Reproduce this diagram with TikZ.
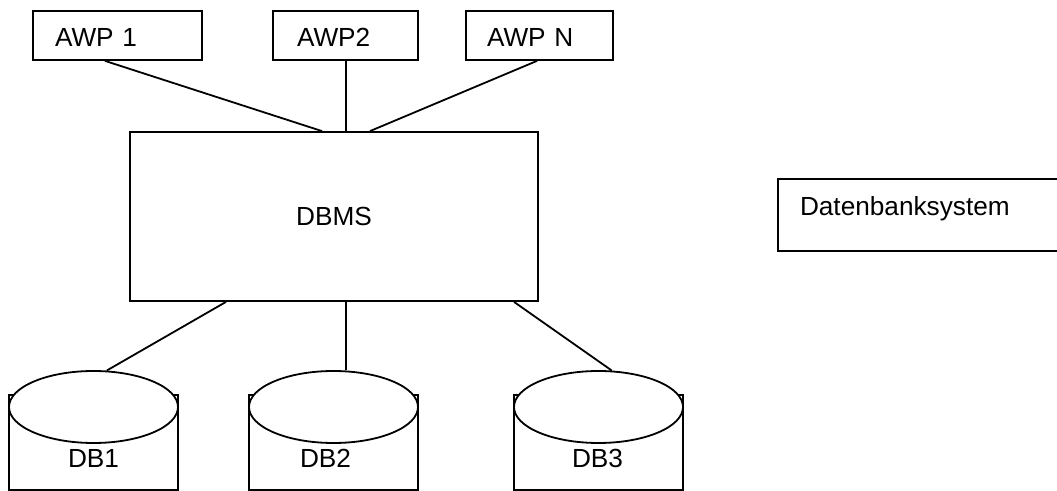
\documentclass[tikz,border=0pt]{standalone}
\usepackage{fontspec}
\setmainfont{Liberation Sans}
\usetikzlibrary{shapes}
\usetikzlibrary{positioning}
\newcommand{\tikzdatabase}[4][0]{%
% side walls
\draw (#3-84.5,395) rectangle (#3+84.5,490);
% lid
\node[dblid] (#2) at (#3,407) {};
\node[dblabel] (#2label) at (#3+#1,458) {#4};
}

\begin{document}
\begin{tikzpicture}[x=0.5pt, y=-0.5pt, line width=0.9pt,
  font=\fontsize{13.1}{15.7}\selectfont,
  awpbox/.style={draw, rectangle, align=left, inner ysep=0pt, text height=17.85pt, text depth=6.65pt},
  sysbox/.style={draw, rectangle, align=left, inner xsep=11pt, inner ysep=0pt, text height=18.5pt, text depth=17.5pt},
  dbmsbox/.style={draw, rectangle, minimum width=204pt, minimum height=84.5pt},
  dblid/.style={draw, fill=white, ellipse, inner sep=0pt, minimum width=84.5pt, minimum height=36pt},
  dblabel/.style={inner sep=0pt}]
\useasboundingbox (0,0) rectangle (1057,491);
% application programs
\node[awpbox, inner xsep=11pt, text width=62.5pt] (awp1) at (117.5,35.5) {AWP 1};
\node[awpbox, inner xsep=12pt, text width=48.5pt] (awp2) at (345.5,35.5) {AWP2};
\node[awpbox, inner xsep=10.5pt, text width=52.5pt] (awpn) at (539.5,35.5) {AWP N};
% management system
\node[dbmsbox] (dbms) at (334,216.5) {DBMS};
\node[sysbox, text width=121.5pt] (sys) at (921.5,215) {Datenbanksystem};
% databases
\tikzdatabase{db1}{93.5}{DB1}
\tikzdatabase[-8]{db2}{333.5}{DB2}
\tikzdatabase[-1]{db3}{598.5}{DB3}
% connections
\draw ([xshift=-6.25pt]awp1.south) -- ([xshift=-6pt]dbms.north);
\draw ([xshift=0.25pt]awp2.south) -- ([xshift=6pt]dbms.north);
\draw ([xshift=-1.25pt]awpn.south) -- ([xshift=18pt]dbms.north);
\draw ([xshift=-54pt]dbms.south) -- (db1.70);
\draw ([xshift=6pt]dbms.south) -- ([xshift=6pt]dbms.south |- db2.north);
\draw ([xshift=90pt]dbms.south) -- (db3.70);
\end{tikzpicture}
\end{document}
